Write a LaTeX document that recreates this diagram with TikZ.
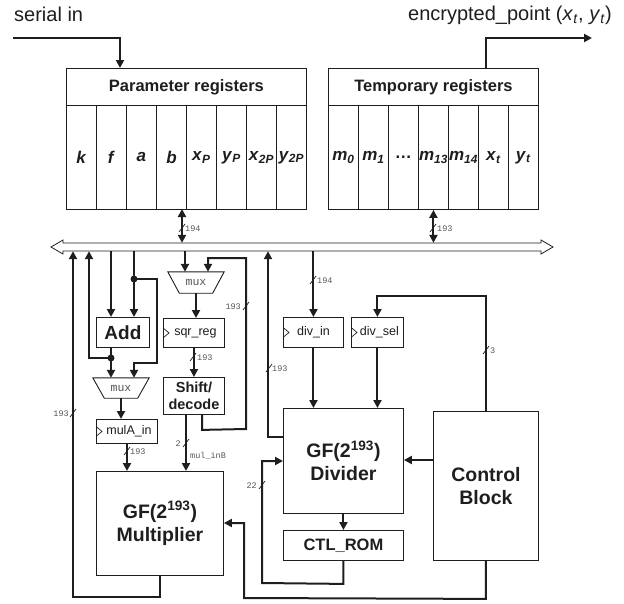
\documentclass[tikz,border=0pt]{standalone}
\usepackage{fontspec}
\setmainfont{Liberation Sans}
\setmonofont{Liberation Mono}
\usetikzlibrary{arrows.meta}
\definecolor{ink}{HTML}{1E1E1E}
\definecolor{bwgray}{HTML}{555555}
\newcommand\ri[2]{\textbf{\textit{#1}\textsubscript{\textit{#2}}}}
\tikzset{
  box/.style={draw=ink, line width=0.9pt, inner sep=0pt, anchor=north west, fill=white, text=ink},
  cellbox/.style={box, minimum width=30pt, minimum height=104pt, font=\fontsize{17}{19}\selectfont},
  conn/.style={draw=ink, line width=2pt},
  arr/.style={conn, -{Triangle[length=8pt,width=8pt]}},
  darr/.style={conn, {Triangle[length=8pt,width=8pt]}-{Triangle[length=8pt,width=8pt]}},
  slash/.style={draw=ink, line width=0.7pt},
  bwl/.style={font=\fontsize{8.5}{9}\selectfont\ttfamily, text=bwgray, inner sep=0pt},
  bigf/.style={font=\fontsize{19.5}{22}\selectfont\bfseries},
  regf/.style={font=\fontsize{12.5}{14}\selectfont},
  extf/.style={anchor=west, inner sep=0pt, text=ink, font=\fontsize{20}{23}\selectfont},
  muxbox/.style={inner sep=0pt, minimum width=56pt,
    font=\fontsize{11.5}{12}\selectfont\ttfamily, text=bwgray},
  muxline/.style={draw=ink, line width=0.9pt, fill=white},
  clk/.style={draw=ink, line width=0.7pt},
  dotc/.style={fill=ink}
}
\begin{document}
\begin{tikzpicture}[x=1pt,y=-1pt]
\useasboundingbox (0,0) rectangle (624,603);

% external texts
\node[extf] (serialin) at (14,14) {serial in};
\node[extf, anchor=east] (encpt) at (612,15)
  {encrypted\_point (\textit{x}\textsubscript{\textit{t}}, \textit{y}\textsubscript{\textit{t}})};

% parameter registers
\node[box, minimum width=240pt, minimum height=37pt, font=\fontsize{16.5}{18}\selectfont\bfseries] (paramhead) at (66,68) {Parameter registers};
\node[cellbox] (pc0) at (66,105) {\textbf{\textit{k}}};
\node[cellbox] (pc1) at (96,105) {\textbf{\textit{f}}};
\node[cellbox] (pc2) at (126,105) {\textbf{\textit{a}}};
\node[cellbox] (pc3) at (156,105) {\textbf{\textit{b}}};
\node[cellbox] (pc4) at (186,105) {\ri{x}{P}};
\node[cellbox] (pc5) at (216,105) {\ri{y}{P}};
\node[cellbox] (pc6) at (246,105) {\ri{x}{2P}};
\node[cellbox] (pc7) at (276,105) {\ri{y}{2P}};

% temporary registers
\node[box, minimum width=210pt, minimum height=37pt, font=\fontsize{16.5}{18}\selectfont\bfseries] (temphead) at (328,68) {Temporary registers};
\node[cellbox] (tc0) at (328,105) {\ri{m}{0}};
\node[cellbox] (tc1) at (358,105) {\ri{m}{1}};
\node[cellbox] (tc2) at (388,105) {\textbf{…}};
\node[cellbox] (tc3) at (418,105) {\ri{m}{13}};
\node[cellbox] (tc4) at (448,105) {\ri{m}{14}};
\node[cellbox] (tc5) at (478,105) {\ri{x}{t}};
\node[cellbox] (tc6) at (508,105) {\ri{y}{t}};

% bus
\node[inner sep=0pt, minimum width=478pt, minimum height=8pt] (bus) at (302,247) {};
\draw[draw=ink, line width=0.8pt, fill=white] (51,247) -- (63,240) -- (63,243) -- (541,243) -- (541,240) -- (553,247)
  -- (541,254) -- (541,251) -- (63,251) -- (63,254) -- cycle;

% blocks
\node[box, minimum width=53pt, minimum height=30pt, font=\fontsize{19}{22}\selectfont\bfseries] (add) at (96,317) {Add};
\node[muxbox, minimum height=20pt] (muxL) at (121,388) {};
\draw[muxline] (muxL.north west) -- (muxL.north east) -- ([xshift=-11.5pt]muxL.south east) -- ([xshift=11.5pt]muxL.south west) -- cycle;
\node[muxbox] (muxLt) at (muxL.center) {mux};
\node[box, minimum width=61pt, minimum height=24pt, regf] (mula) at (96,419) {\hspace{4pt}mulA\_in};
\node[box, minimum width=127pt, minimum height=104pt, bigf, align=center] (mult) at (96,471) {GF(2\textsuperscript{193})\\[1pt]Multiplier};
\node[muxbox, minimum height=21pt] (muxS) at (196,282.5) {};
\draw[muxline] (muxS.north west) -- (muxS.north east) -- ([xshift=-11.5pt]muxS.south east) -- ([xshift=11.5pt]muxS.south west) -- cycle;
\node[muxbox] (muxSt) at (muxS.center) {mux};
\node[box, minimum width=61pt, minimum height=29pt, regf] (sqr) at (163,318) {\hspace{3pt}sqr\_reg};
\node[box, minimum width=61pt, minimum height=37pt, font=\fontsize{14.5}{17}\selectfont\bfseries, align=center] (shift) at (163,377) {Shift/\\decode};
\node[box, minimum width=60pt, minimum height=30pt, regf] (divin) at (283,317) {div\_in};
\node[box, minimum width=52pt, minimum height=30pt, regf] (divsel) at (351,317) {\hspace{4pt}div\_sel};
\node[box, minimum width=120pt, minimum height=105pt, bigf, align=center] (div) at (283,408) {GF(2\textsuperscript{193})\\[1pt]Divider};
\node[box, minimum width=120pt, minimum height=30pt, font=\fontsize{16.5}{18}\selectfont\bfseries] (rom) at (283,530) {CTL\_ROM};
\node[box, minimum width=105pt, minimum height=149pt, bigf, align=center] (ctrl) at (433,411) {Control\\[1pt]Block};

% clock marks
\foreach \n in {mula,sqr,divin,divsel}
  \draw[clk] ([yshift=5pt]\n.west) -- ([xshift=6pt]\n.west) -- ([yshift=-5pt]\n.west);

% ports
\coordinate (sinA) at (13,38);
\coordinate (encB) at (592,38);
\coordinate (pport) at (182,209);
\coordinate (addL) at ([xshift=15pt]add.north west);
\coordinate (addR) at ([xshift=38pt]add.north west);
\coordinate (dotR) at (134,279);
\coordinate (dotL) at (111,358);
\coordinate (mulAo) at ([xshift=31pt]mula.south west);
\coordinate (shO) at ([xshift=23pt]shift.south west);
\coordinate (shF) at ([xshift=39pt]shift.south west);
\coordinate (muxSL) at ([xshift=-11pt]muxS.north);
\coordinate (muxSR) at ([xshift=12pt]muxS.north);
\coordinate (mulO) at ([xshift=64pt]mult.south west);
\coordinate (divO) at ([yshift=-29pt]div.north west);
\coordinate (ctrlD) at ([yshift=-49pt]ctrl.north west);

% connectors
\draw[arr] (sinA) -| ([xshift=54pt]paramhead.north west);
\draw[arr] ([xshift=158pt]temphead.north west) |- (encB);
\draw[darr] (pport) -- (pport |- bus.north);
\draw[darr] (tc3.south) -- (tc3.south |- bus.north);

\draw[arr] (bus.south -| addL) -- (addL);
\draw[arr] (bus.south -| addR) -- (addR);
\draw[arr] (dotR) -- (157,279) -- (157,363) -- (134,363) -- (addR |- muxL.north);
\draw[arr] (add.south -| addL) -- (addL |- muxL.north);
\draw[arr] (dotL) -- (89,358) -- (bus.south -| 89,358);
\fill[dotc] (dotR) circle (3.5pt);
\fill[dotc] (dotL) circle (3.5pt);
\draw[arr] (muxL.south) -- (muxL.south |- mula.north);
\draw[arr] (mulAo) -- (mulAo |- mult.north);

\draw[arr] (bus.south -| muxSL) -- (muxSL);
\draw[arr] (shF) -- ++(0,15) -- (246,429) -- (246,258) -- (208,258) -- (muxSR);
\draw[arr] (muxS.south) -- (muxS.south |- sqr.north);
\draw[arr] (sqr.south) -- (shift.north);
\draw[arr] (shO) -- (shO |- mult.north);

\draw[arr] (mulO) -- (160,597) -- (73,597) -- (bus.south -| 73,597);
\draw[arr] (divO) -- (268,437) -- (bus.south -| 268,437);

\draw[arr] (bus.south -| divin.north) -- (divin.north);
\draw[arr] (divin.south) -- (divin.south |- div.north);
\draw[arr] (divsel.south) -- (divsel.south |- div.north);
\draw[arr] (ctrl.north) -- ++(0,-115) -| (divsel.north);
\draw[arr] (ctrlD) -- (ctrlD -| div.east);
\draw[arr] (div.south) -- (rom.north);
\draw[arr] (rom.south) -- ++(0,23) -- (262,583) -- (262,461) -- (div.west |- 262,461);
\draw[arr] (ctrl.south) -- ++(0,38) -- (244,598) -- (244,523) -- (mult.east |- 244,523);

% bit-width marks
\foreach \x/\y in {182/228, 433/228, 313/280, 269/368, 486/350, 193/357, 246/306, 73/413, 127/451, 186/443, 262/485}
  \draw[slash] (\x-3,\y+4) -- (\x+3,\y-4);
\node[bwl, anchor=west] (bw1) at (185,229) {194};
\node[bwl, anchor=west] (bw2) at (437,229) {193};
\node[bwl, anchor=west] (bw3) at (317,281) {194};
\node[bwl, anchor=west] (bw4) at (272,369) {193};
\node[bwl, anchor=west] (bw5) at (490,351) {3};
\node[bwl, anchor=west] (bw6) at (197,358) {193};
\node[bwl, anchor=east] (bw7) at (241,307) {193};
\node[bwl, anchor=east] (bw8) at (69,414) {193};
\node[bwl, anchor=west] (bw9) at (130,452) {193};
\node[bwl, anchor=east] (bw10) at (181,444) {2};
\node[bwl, anchor=west] (bw11) at (190,456) {mul\_inB};
\node[bwl, anchor=east] (bw12) at (257,486) {22};
\end{tikzpicture}
\end{document}
